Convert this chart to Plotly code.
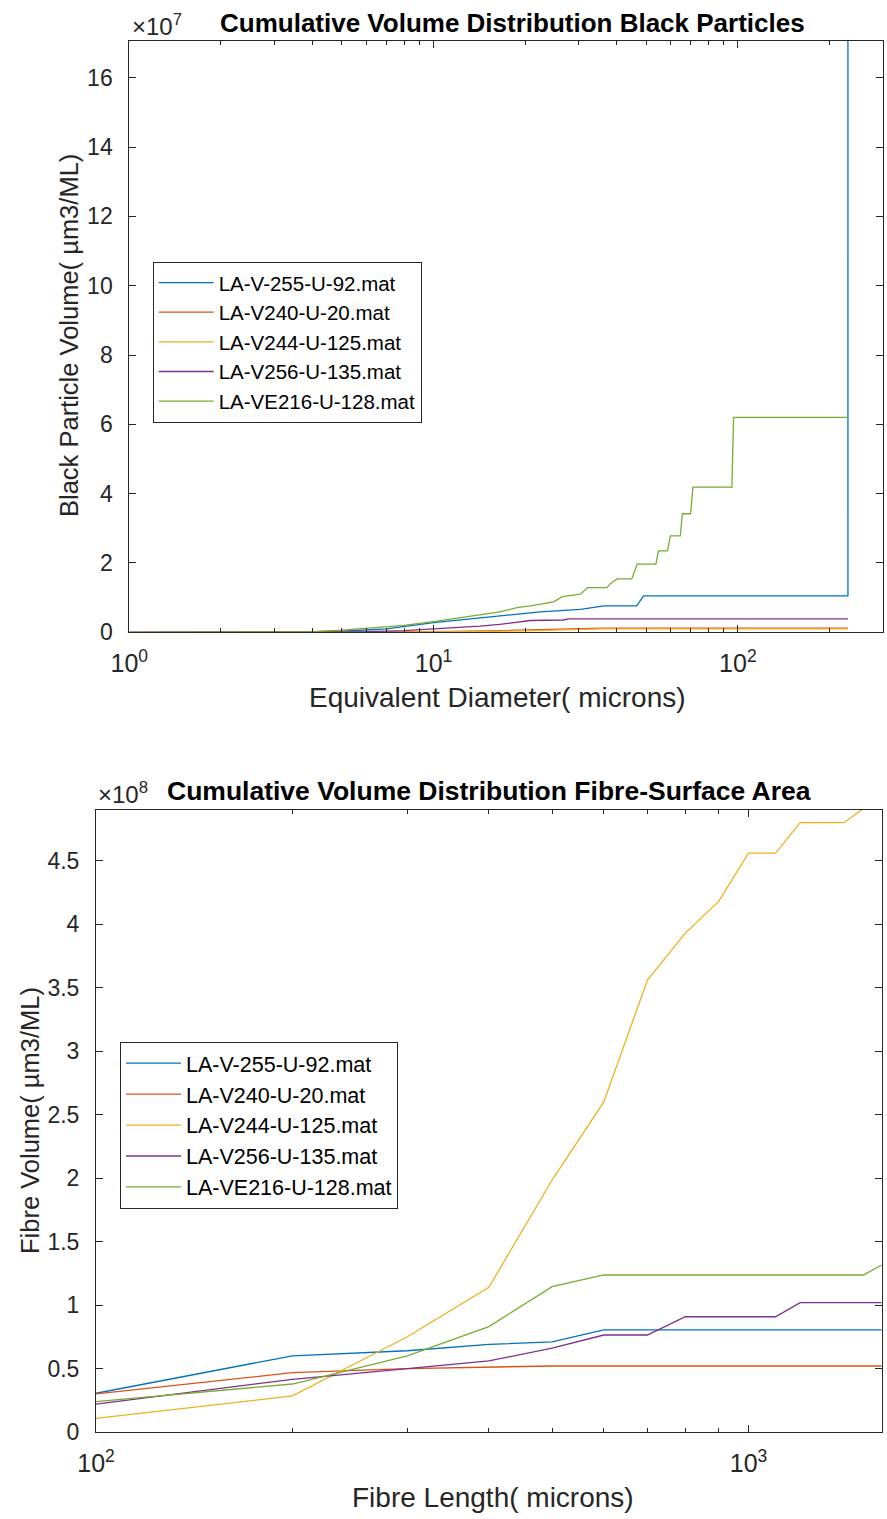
import plotly.graph_objects as go

W, H = 887, 1519
FONT = "Liberation Sans, Arial, Helvetica, sans-serif"
AX = "#262626"

names = ["LA-V-255-U-92.mat", "LA-V240-U-20.mat", "LA-V244-U-125.mat",
         "LA-V256-U-135.mat", "LA-VE216-U-128.mat"]
colors = ["#0072BD", "#D95319", "#EDB120", "#7E2F8E", "#77AC30"]

# ---- Top chart: equivalent diameter (microns) vs cumulative volume (x1e7 um3/mL)
bp_d_v255 = [1, 3, 5, 7, 10, 12.8, 14.2, 22.4, 30.4, 36.3, 46.5, 49.0, 230, 230]
bp_v_v255 = [0, 0, 0.03, 0.10, 0.28, 0.375, 0.40, 0.59, 0.66, 0.76, 0.76, 1.05, 1.05, 17.07]

bp_d_v240 = [1, 5, 10, 15, 20, 28, 36, 230]
bp_v_v240 = [0, 0, 0.02, 0.04, 0.06, 0.09, 0.12, 0.12]

bp_d_v244 = [1, 5, 10, 20, 36, 230]
bp_v_v244 = [0, 0, 0.01, 0.04, 0.10, 0.10]

bp_d_v256 = [1, 4, 6, 8, 10, 14.2, 16.5, 20.8, 26.7, 27.8, 230]
bp_v_v256 = [0, 0, 0.02, 0.05, 0.095, 0.18, 0.23, 0.34, 0.355, 0.385, 0.385]

bp_d_ve216 = [1, 2, 3, 4, 5, 6, 8, 10, 12.8, 14.2, 16.5, 18.8, 20.8, 24.8, 26.5, 30.4,
              32.1, 37.1, 38.2, 40.1, 44.8, 46.7, 53.8, 54.8, 58.7, 60.0, 64.7, 65.7,
              69.9, 71.2, 95.6, 96.8, 229]
bp_v_ve216 = [0, 0, 0.005, 0.02, 0.06, 0.115, 0.2, 0.31, 0.45, 0.50, 0.59, 0.71, 0.76,
              0.88, 1.03, 1.10, 1.29, 1.29, 1.41, 1.54, 1.54, 1.97, 1.97, 2.35, 2.35,
              2.78, 2.78, 3.42, 3.42, 4.19, 4.19, 6.20, 6.20]

top_x = [bp_d_v255, bp_d_v240, bp_d_v244, bp_d_v256, bp_d_ve216]
top_y = [bp_v_v255, bp_v_v240, bp_v_v244, bp_v_v256, bp_v_ve216]

top_ytick_vals = [0, 2, 4, 6, 8, 10, 12, 14, 16]
top_ytick_text = ["0", "2", "4", "6", "8", "10", "12", "14", "16"]
top_xtick_vals = [1, 10, 100]
top_xtick_text = ["10<sup>0</sup>", "10<sup>1</sup>", "10<sup>2</sup>"]

# ---- Bottom chart: fibre length (microns) vs cumulative volume (x1e8 um3/mL)
fib_len = [100, 200, 300, 400, 500, 600, 700, 800, 900, 1000, 1100, 1200, 1300, 1400, 1500, 1600]
fib_v255 = [0.305, 0.60, 0.64, 0.69, 0.71, 0.804, 0.804, 0.804, 0.804, 0.804, 0.804, 0.804, 0.804, 0.804, 0.804, 0.804]
fib_v240 = [0.30, 0.467, 0.50, 0.51, 0.52, 0.52, 0.52, 0.52, 0.52, 0.52, 0.52, 0.52, 0.52, 0.52, 0.52, 0.52]
fib_v244 = [0.108, 0.284, 0.75, 1.14, 1.985, 2.60, 3.56, 3.93, 4.18, 4.56, 4.56, 4.80, 4.80, 4.80, 4.91, 4.91]
fib_v256 = [0.22, 0.415, 0.50, 0.56, 0.66, 0.764, 0.764, 0.908, 0.908, 0.908, 0.908, 1.019, 1.019, 1.019, 1.019, 1.019]
fib_ve216 = [0.24, 0.378, 0.60, 0.83, 1.145, 1.237, 1.237, 1.237, 1.237, 1.237, 1.237, 1.237, 1.237, 1.237, 1.237, 1.316]
bot_y = [fib_v255, fib_v240, fib_v244, fib_v256, fib_ve216]

bot_ytick_vals = [0, 0.5, 1, 1.5, 2, 2.5, 3, 3.5, 4, 4.5]
bot_ytick_text = ["0", "0.5", "1", "1.5", "2", "2.5", "3", "3.5", "4", "4.5"]
bot_xtick_vals = [100, 1000]
bot_xtick_text = ["10<sup>2</sup>", "10<sup>3</sup>"]

fig = go.Figure()
for i in range(5):
    fig.add_trace(go.Scatter(x=top_x[i], y=top_y[i], mode="lines", name=names[i],
                             line=dict(color=colors[i], width=1.3),
                             xaxis="x", yaxis="y", legend="legend"))
for i in range(5):
    fig.add_trace(go.Scatter(x=fib_len, y=bot_y[i], mode="lines", name=names[i],
                             line=dict(color=colors[i], width=1.3),
                             xaxis="x2", yaxis="y2", legend="legend2"))


def px(x):
    return x / W


def py(y):
    return 1 - y / H


minor_top = [m * 10 ** k for k in range(0, 3) for m in range(2, 10)]
minor_bot = [m * 10 ** k for k in range(2, 4) for m in range(2, 10)]

common_axis = dict(showline=True, linecolor=AX, linewidth=1, mirror="ticks",
                   ticks="inside", ticklen=7, tickcolor=AX, tickwidth=1,
                   showgrid=False, zeroline=False, automargin=False)
xfont = dict(family=FONT, size=25, color=AX)
yfont = dict(family=FONT, size=23, color=AX)

fig.update_layout(
    width=W, height=H,
    margin=dict(l=0, r=0, t=0, b=0, pad=0),
    paper_bgcolor="white", plot_bgcolor="white",
    font=dict(family=FONT, color=AX),
    xaxis=dict(type="log", domain=[px(129.3), px(883)], anchor="y",
               range=[0, 2.477], tickmode="array", tickvals=top_xtick_vals,
               ticktext=top_xtick_text, ticklabelstandoff=9, tickfont=xfont,
               minor=dict(tickmode="array", tickvals=minor_top, ticks="inside",
                          ticklen=4, tickcolor=AX, showgrid=False),
               **common_axis),
    yaxis=dict(domain=[py(632.3), py(40.7)], anchor="x", range=[0, 17.07],
               tickmode="array", tickvals=top_ytick_vals, ticktext=top_ytick_text,
               ticklabelstandoff=11, tickfont=yfont, **common_axis),
    xaxis2=dict(type="log", domain=[px(96), px(881.7)], anchor="y2",
                range=[2, 3.2041], tickmode="array", tickvals=bot_xtick_vals,
                ticktext=bot_xtick_text, ticklabelstandoff=9, tickfont=xfont,
                minor=dict(tickmode="array", tickvals=minor_bot, ticks="inside",
                           ticklen=4, tickcolor=AX, showgrid=False),
                **common_axis),
    yaxis2=dict(domain=[py(1432), py(810)], anchor="x2", range=[0, 4.9],
                tickmode="array", tickvals=bot_ytick_vals, ticktext=bot_ytick_text,
                ticklabelstandoff=11, tickfont=yfont, **common_axis),
    legend=dict(x=px(152.7), y=py(261.7), xanchor="left", yanchor="top",
                bgcolor="white", bordercolor=AX, borderwidth=1,
                font=dict(family=FONT, size=20.5, color="black"),
                itemwidth=55, tracegroupgap=0),
    legend2=dict(x=px(120), y=py(1041.7), xanchor="left", yanchor="top",
                 bgcolor="white", bordercolor=AX, borderwidth=1,
                 font=dict(family=FONT, size=21.5, color="black"),
                 itemwidth=55, tracegroupgap=0),
    showlegend=True,
)

annotations = [
    dict(text="<b>Cumulative Volume Distribution Black Particles</b>", x=px(512), y=py(23),
         font=dict(family=FONT, size=26, color="black")),
    dict(text="<b>Cumulative Volume Distribution Fibre-Surface Area</b>", x=px(489), y=py(791),
         font=dict(family=FONT, size=26.5, color="black")),
    dict(text="×10<sup>7</sup>", x=px(130), y=py(25), xanchor="left",
         font=dict(family=FONT, size=24, color=AX)),
    dict(text="×10<sup>8</sup>", x=px(96), y=py(793), xanchor="left",
         font=dict(family=FONT, size=24, color=AX)),
    dict(text="Equivalent Diameter( microns)", x=px(497), y=py(697),
         font=dict(family=FONT, size=28, color=AX)),
    dict(text="Black Particle Volume( µm3/ML)", x=px(69), y=py(336), textangle=-90,
         font=dict(family=FONT, size=25.5, color=AX)),
    dict(text="Fibre Length( microns)", x=px(493), y=py(1497),
         font=dict(family=FONT, size=28, color=AX)),
    dict(text="Fibre Volume( µm3/ML)", x=px(30), y=py(1121), textangle=-90,
         font=dict(family=FONT, size=25.5, color=AX)),
]
for a in annotations:
    a.setdefault("xanchor", "center")
    a.update(xref="paper", yref="paper", yanchor="middle", showarrow=False)
fig.update_layout(annotations=annotations)

fig.write_html("out.html")
